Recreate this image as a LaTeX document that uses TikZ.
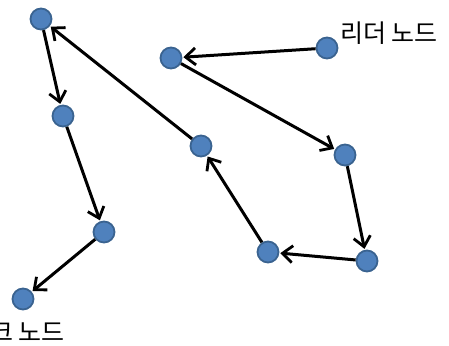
\documentclass[tikz,border=0pt]{standalone}
\usepackage{fontspec}
\newfontfamily\kr{Noto Sans CJK KR}
\usetikzlibrary{arrows.meta}
\definecolor{nodefill}{HTML}{4F81BD}
\definecolor{nodeedge}{HTML}{3A6390}
\tikzset{
  pt/.style={circle, fill=nodefill, draw=nodeedge, line width=1.8pt, minimum size=21pt, inner sep=0pt},
  link/.style={line width=3pt, -{Straight Barb[length=10pt,width=17pt,line width=2.8pt]}, shorten >=1pt},
  lbl/.style={font=\kr\fontsize{25}{30}\selectfont, inner sep=0pt}
}
\begin{document}
\begin{tikzpicture}[x=1pt,y=-1pt]
\useasboundingbox (0,0) rectangle (449,345);
\clip (0,0) rectangle (449,345);
\node[pt] (a) at (41,19) {};
\node[pt] (b) at (63,116) {};
\node[pt] (c) at (104,232) {};
\node[pt] (d) at (23,299) {};
\node[pt] (e) at (171,58) {};
\node[pt] (f) at (327,48) {};
\node[pt] (g) at (345,155) {};
\node[pt] (h) at (367,261) {};
\node[pt] (i) at (268,252) {};
\node[pt] (j) at (201,146) {};
\draw[link] (f) -- (e);
\draw[link] (e) -- (g);
\draw[link] (g) -- (h);
\draw[link] (h) -- (i);
\draw[link] (i) -- (j);
\draw[link] (j) -- (a);
\draw[link] (a) -- (b);
\draw[link] (b) -- (c);
\draw[link] (c) -- (d);
\node[lbl, anchor=west] (leader) at (340,33) {리더 노드};
\node[lbl, anchor=east] (sink) at (65,332) {싱크 노드};
\end{tikzpicture}
\end{document}
